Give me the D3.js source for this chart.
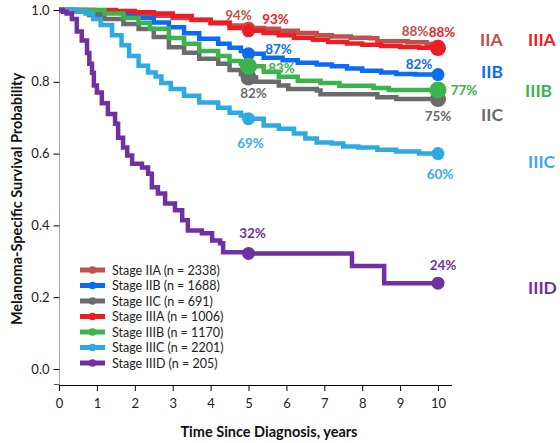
<!DOCTYPE html>
<html>
<head>
<meta charset="utf-8">
<script src="https://cdn.jsdelivr.net/npm/d3@7"></script>
<style>
  html, body { margin: 0; padding: 0; background: #fff; }
  svg { display: block; font-family: Lato, "Open Sans", sans-serif; }
</style>
</head>
<body>
<svg id="chart" width="560" height="443"></svg>
<script>
// ---------- DATA ----------
const stages = ["IIA", "IIB", "IIC", "IIIA", "IIIB", "IIIC", "IIID"];
const stageN = [2338, 1688, 691, 1006, 1170, 2201, 205];
const xTicks = [0, 1, 2, 3, 4, 5, 6, 7, 8, 9, 10];
const yTicks = [0.0, 0.2, 0.4, 0.6, 0.8, 1.0];
const markTimes = [5, 10];

const tIIA = [0, 0.5, 1, 1.5, 2, 2.5, 3, 3.5, 4, 4.5, 5, 5.4, 5.8, 6.3, 6.8, 7.2, 7.7, 8.2, 8.4, 9.2, 9.7, 10];
const sIIA = [1, 0.998, 0.995, 0.992, 0.988, 0.984, 0.978, 0.972, 0.965, 0.957, 0.95, 0.948, 0.942, 0.936, 0.93, 0.926, 0.923, 0.921, 0.913, 0.91, 0.905, 0.9];

const tIIB = [0, 0.9, 1.3, 1.7, 2.1, 2.5, 2.9, 3.3, 3.7, 4.2, 4.5, 4.8, 5, 5.4, 5.9, 6.3, 6.8, 7.2, 7.6, 8, 8.5, 8.9, 9.4, 10];
const sIIB = [1, 0.998, 0.993, 0.987, 0.978, 0.965, 0.952, 0.935, 0.92, 0.906, 0.895, 0.886, 0.878, 0.867, 0.86, 0.853, 0.848, 0.843, 0.837, 0.831, 0.826, 0.822, 0.82, 0.82];

const tIIC = [0, 0.4, 0.8, 1.2, 1.7, 2.1, 2.5, 2.9, 3.3, 3.7, 4.2, 4.5, 4.8, 5, 5.2, 5.8, 6.05, 6.8, 6.9, 8.4, 8.9, 10];
const sIIC = [1, 0.996, 0.986, 0.975, 0.961, 0.947, 0.925, 0.896, 0.881, 0.864, 0.85, 0.833, 0.822, 0.812, 0.8, 0.79, 0.78, 0.776, 0.765, 0.757, 0.752, 0.752];

const tIIIA = [0, 1, 1.5, 2, 2.5, 3, 3.5, 4, 4.5, 5, 5.4, 5.8, 6.2, 6.7, 7.1, 7.6, 8, 8.5, 9, 9.5, 10];
const sIIIA = [1, 1, 0.997, 0.994, 0.99, 0.983, 0.973, 0.963, 0.95, 0.942, 0.936, 0.93, 0.923, 0.917, 0.911, 0.907, 0.903, 0.9, 0.897, 0.895, 0.894];

const tIIIB = [0, 0.7, 1.2, 1.7, 2.1, 2.4, 2.9, 3.3, 3.7, 4.2, 4.5, 4.8, 5, 5.4, 5.8, 6.3, 6.9, 7.4, 8.3, 8.7, 10];
const sIIIB = [1, 0.999, 0.99, 0.978, 0.964, 0.948, 0.922, 0.906, 0.886, 0.872, 0.858, 0.85, 0.843, 0.828, 0.814, 0.803, 0.797, 0.789, 0.783, 0.777, 0.777];

const tIIIC = [0, 0.3, 0.5, 0.7, 0.9, 1.1, 1.4, 1.65, 1.85, 2.1, 2.35, 2.55, 2.7, 2.95, 3.3, 3.7, 4.2, 4.5, 4.8, 5, 5.4, 5.8, 6.2, 6.5, 6.8, 7.2, 7.5, 7.9, 8.4, 8.9, 9.5, 10];
const sIIIC = [1, 0.999, 0.996, 0.99, 0.975, 0.958, 0.93, 0.902, 0.872, 0.845, 0.826, 0.815, 0.797, 0.78, 0.761, 0.742, 0.728, 0.714, 0.706, 0.697, 0.678, 0.669, 0.656, 0.642, 0.631, 0.628, 0.62, 0.617, 0.611, 0.606, 0.6, 0.6];

const tIIID = [0, 0.1, 0.2, 0.34, 0.47, 0.6, 0.74, 0.8, 0.87, 0.92, 1.0, 1.13, 1.29, 1.48, 1.56, 1.69, 1.8, 1.93, 2.19, 2.35, 2.45, 2.61, 2.8, 3.06, 3.25, 3.4, 3.77, 4.04, 4.25, 4.33, 5, 7.73, 8.58, 10];
const sIIID = [1, 0.995, 0.99, 0.975, 0.94, 0.915, 0.88, 0.85, 0.825, 0.79, 0.77, 0.74, 0.71, 0.683, 0.644, 0.617, 0.595, 0.572, 0.561, 0.544, 0.506, 0.489, 0.461, 0.442, 0.414, 0.386, 0.378, 0.358, 0.35, 0.325, 0.322, 0.287, 0.239, 0.239];

const pctAt5  = ["94%", "87%", "82%", "93%", "83%", "69%", "32%"];
const pctAt10 = ["88%", "82%", "75%", "88%", "77%", "60%", "24%"];

// ---------- STYLE / LAYOUT ----------
const colors = ["#c0504d", "#0a6cf2", "#6b6b6b", "#ee1d25", "#3cb44b", "#2eaae3", "#7030a0"];
const labelColors = ["#c0504d", "#0a6cf2", "#6b6b6b", "#ee1d25", "#3cb44b", "#3ea8f0", "#7030a0"];
const radius = [6.5, 6.5, 8, 6.5, 8.5, 6.5, 6.5];
const radius10 = [6.5, 6.5, 8, 8, 8.5, 6.5, 6.5];
const off5  = [[-10, -13], [30, -5], [5, 16], [27, -12], [33, 2], [2, 24], [4, -20]];
const off10 = [[-23, -15], [-19, -11], [0, 17], [4, -16], [26, 0], [2, 20], [5, -18]];
const sideLabels = [[480, 39], [481, 71], [481, 114], [528, 39], [525, 90], [528, 161], [528, 287]];

const times = [tIIA, tIIB, tIIC, tIIIA, tIIIB, tIIIC, tIIID];
const surv  = [sIIA, sIIB, sIIC, sIIIA, sIIIB, sIIIC, sIIID];

const series = stages.map((s, i) => ({
  name: s, n: stageN[i], color: colors[i],
  pts: times[i].map((t, j) => ({ t, v: surv[i][j] }))
}));

function valueAt(pts, t) {
  let v = pts[0].v;
  for (const p of pts) if (p.t <= t + 1e-9) v = p.v;
  return v;
}

// ---------- SCALES ----------
const svg = d3.select("#chart");
const x = d3.scaleLinear().domain([0, 10]).range([59, 438]);
const y = d3.scaleLinear().domain([0, 1]).range([369, 10]);
const yBottom = 385;

// ---------- AXES ----------
svg.append("line").attr("x1", 59.5).attr("x2", 59.5).attr("y1", y(1) - 2).attr("y2", yBottom)
  .attr("stroke", "#a6a6a6").attr("stroke-width", 1);
const yAxis = svg.append("g").attr("transform", "translate(59.5,0)")
  .call(d3.axisLeft(y).tickValues(yTicks).tickFormat(d3.format(".1f")).tickSize(6).tickPadding(4));
yAxis.select(".domain").remove();
yAxis.selectAll(".tick line").attr("stroke", "#000");
yAxis.selectAll(".tick text").attr("font-size", 13).attr("fill", "#222").attr("font-family", "Lato, sans-serif");
svg.append("line").attr("x1", 54).attr("x2", 59.5).attr("y1", yBottom - 0.5).attr("y2", yBottom - 0.5)
  .attr("stroke", "#555");

const xAxis = svg.append("g").attr("transform", `translate(0,${yBottom})`)
  .call(d3.axisBottom(x).tickValues(xTicks).tickFormat(d3.format("d")).tickSize(6).tickPadding(8));
xAxis.select(".domain").remove();
xAxis.selectAll(".tick line").attr("stroke", "#000");
xAxis.selectAll(".tick text").attr("font-size", 13).attr("fill", "#222").attr("font-family", "Lato, sans-serif");
svg.append("line").attr("x1", 59).attr("x2", 452).attr("y1", yBottom + 0.5).attr("y2", yBottom + 0.5)
  .attr("stroke", "#000").attr("stroke-width", 1);

svg.append("text").attr("x", 269).attr("y", 437).attr("text-anchor", "middle")
  .attr("font-size", 14.5).attr("font-weight", "bold").attr("fill", "#111")
  .text("Time Since Diagnosis, years");
svg.append("text").attr("transform", "translate(22,199) rotate(-90)").attr("text-anchor", "middle")
  .attr("font-size", 14.5).attr("font-weight", "bold").attr("fill", "#111")
  .text("Melanoma-Specific Survival Probability");

// ---------- LINES ----------
const line = d3.line().x(d => x(d.t)).y(d => y(d.v)).curve(d3.curveStepAfter);
const g = svg.append("g");
series.forEach((s, i) => {
  g.append("path").datum(s.pts).attr("d", line)
    .attr("fill", "none").attr("stroke", s.color).attr("stroke-width", 4.5)
    .attr("stroke-linejoin", "miter");
});
series.forEach((s, i) => {
  markTimes.forEach((mt, k) => {
    g.append("circle").attr("cx", x(mt)).attr("cy", y(valueAt(s.pts, mt)))
      .attr("r", k === 0 ? radius[i] : radius10[i]).attr("fill", s.color);
  });
});

// ---------- PERCENT LABELS ----------
series.forEach((s, i) => {
  [[5, pctAt5[i], off5[i]], [10, pctAt10[i], off10[i]]].forEach(([mt, txt, o]) => {
    svg.append("text")
      .attr("x", x(mt) + o[0]).attr("y", y(valueAt(s.pts, mt)) + o[1])
      .attr("text-anchor", "middle").attr("dominant-baseline", "central")
      .attr("font-size", 13.5).attr("font-weight", "bold").attr("fill", labelColors[i])
      .text(txt);
  });
});

// ---------- SIDE STAGE LABELS ----------
series.forEach((s, i) => {
  svg.append("text").attr("x", sideLabels[i][0]).attr("y", sideLabels[i][1])
    .attr("dominant-baseline", "central")
    .attr("font-size", 17.5).attr("font-weight", "bold").attr("fill", labelColors[i])
    .text(s.name);
});

// ---------- LEGEND ----------
const leg = svg.append("g").attr("transform", "translate(80,270)");
series.forEach((s, i) => {
  const row = leg.append("g").attr("transform", `translate(0,${i * 15.5})`);
  row.append("line").attr("x1", 0).attr("x2", 25).attr("y1", 0).attr("y2", 0)
    .attr("stroke", s.color).attr("stroke-width", 5);
  row.append("circle").attr("cx", 12.5).attr("cy", 0).attr("r", 3.8).attr("fill", s.color);
  row.append("text").attr("x", 32).attr("y", 0).attr("dominant-baseline", "central")
    .attr("font-size", 12.5).attr("fill", "#222")
    .text(`Stage ${s.name} (n = ${s.n})`);
});
</script>
</body>
</html>
